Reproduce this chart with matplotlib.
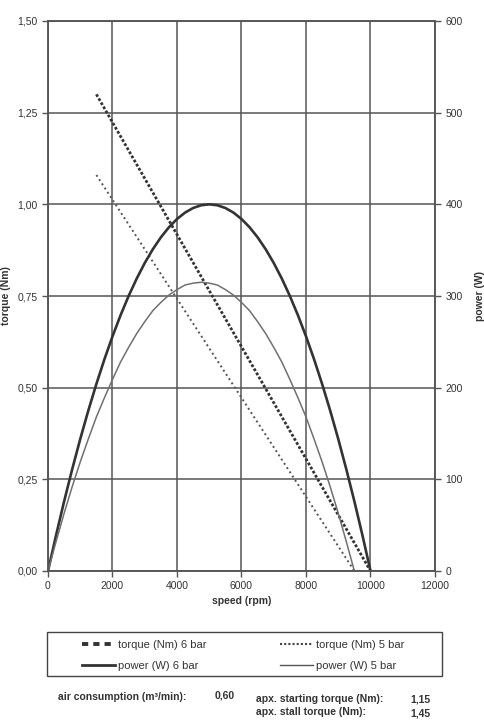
import matplotlib.pyplot as plt
from matplotlib.lines import Line2D
from matplotlib.patches import Rectangle
from matplotlib.ticker import FuncFormatter, MultipleLocator

plt.rcParams['font.family'] = ['Liberation Sans', 'DejaVu Sans']

# torque lines (speed rpm, torque Nm)
torque6_speed = [1500, 10000]
torque6 = [1.30, 0.00]
torque5_speed = [1500, 9500]
torque5 = [1.08, 0.00]

# power curves (speed rpm, power W)
power6_speed = [0, 250, 500, 750, 1000, 1250, 1500, 1750, 2000, 2250, 2500, 2750,
                3000, 3250, 3500, 3750, 4000, 4250, 4500, 4750, 5000, 5250, 5500,
                5750, 6000, 6250, 6500, 6750, 7000, 7250, 7500, 7750, 8000, 8250,
                8500, 8750, 9000, 9250, 9500, 9750, 10000]
power6 = [0, 39, 76, 111, 144, 175, 204, 231, 256, 279, 300, 319,
          336, 351, 364, 375, 384, 391, 396, 399, 400, 399, 396,
          391, 384, 375, 364, 351, 336, 319, 300, 279, 256, 231,
          204, 175, 144, 111, 76, 39, 0]
power5_speed = [0, 250, 500, 750, 1000, 1250, 1500, 1750, 2000, 2250, 2500, 2750,
                3000, 3250, 3500, 3750, 4000, 4250, 4500, 4750, 5000, 5250, 5500,
                5750, 6000, 6250, 6500, 6750, 7000, 7250, 7500, 7750, 8000, 8250,
                8500, 8750, 9000, 9250, 9500]
power5 = [0, 32, 63, 92, 119, 144, 168, 189, 209, 228, 244, 259,
          272, 284, 293, 301, 307, 312, 314, 315, 314, 312, 307,
          301, 293, 284, 272, 259, 244, 228, 209, 189, 168, 144,
          119, 92, 63, 32, 0]

labels_left = ['torque (Nm) 6 bar', 'power (W) 6 bar']
labels_right = ['torque (Nm) 5 bar', 'power (W) 5 bar']

txt = '#333333'
grid_c = '#555555'

fig = plt.figure(figsize=(4.85, 7.27), dpi=100)
ax = fig.add_axes([48 / 485, 1 - 571 / 727, 387 / 485, 550 / 727])
ax2 = ax.twinx()

ax.set_xlim(0, 12000)
ax.set_ylim(0, 1.5)
ax2.set_ylim(0, 600)
ax.xaxis.set_major_locator(MultipleLocator(2000))
ax.yaxis.set_major_locator(MultipleLocator(0.25))
ax2.yaxis.set_major_locator(MultipleLocator(100))
ax.yaxis.set_major_formatter(FuncFormatter(lambda v, p: f'{v:.2f}'.replace('.', ',')))
ax.grid(True, color=grid_c, linewidth=1.1)
ax.set_axisbelow(True)

for a in (ax, ax2):
    for s in a.spines.values():
        s.set_color(grid_c)
        s.set_linewidth(1.1)
    a.tick_params(colors=grid_c, labelcolor=txt, labelsize=7.5, length=4, width=1)

ax.plot(torque6_speed, torque6, color='#333333', lw=2.0, linestyle=(0, (1.0, 0.7)))
ax.plot(torque5_speed, torque5, color='#555555', lw=1.4, linestyle=(0, (1.0, 1.6)))
ax2.plot(power6_speed, power6, color='#333333', lw=1.9)
ax2.plot(power5_speed, power5, color='#707070', lw=1.1)

fig.text(6 / 485, 1 - 296 / 727, 'torque (Nm)', rotation=90, fontsize=7.5,
         fontweight='bold', color=txt, ha='center', va='center')
fig.text(480 / 485, 1 - 296 / 727, 'power (W)', rotation=90, fontsize=7.5,
         fontweight='bold', color=txt, ha='center', va='center')
ax.set_xlabel('speed (rpm)', fontsize=7.5, fontweight='bold', color=txt, labelpad=3)

# legend box with two columns (legend handles drawn like the printed key)
h1 = Line2D([], [], color='#333333', lw=2.8, linestyle=(0, (1.6, 1.3)))
h2 = Line2D([], [], color='#333333', lw=2.0)
h3 = Line2D([], [], color='#444444', lw=1.5, linestyle=(0, (1.0, 1.0)))
h4 = Line2D([], [], color='#555555', lw=1.0)
fig.patches.append(Rectangle((47 / 485, 1 - 676 / 727), 395 / 485, 44 / 727,
                             transform=fig.transFigure, fill=False,
                             edgecolor='#444444', linewidth=1.0))
leg_kw = dict(loc='upper left', fontsize=8, frameon=False, handlelength=3.0,
              handletextpad=0.2, borderpad=0, borderaxespad=0,
              labelspacing=1.0, labelcolor=txt)
fig.legend([h1, h2], labels_left, bbox_to_anchor=(82 / 485, 1 - 640 / 727), **leg_kw)
fig.legend([h3, h4], labels_right, bbox_to_anchor=(280 / 485, 1 - 640 / 727), **leg_kw)

fig.text(58 / 485, 1 - 697 / 727, 'air consumption (m³/min):', fontsize=7.5,
         fontweight='bold', color=txt, va='center')
fig.text(215 / 485, 1 - 696 / 727, '0,60', fontsize=7.5, fontweight='bold', color=txt, va='center')
fig.text(256 / 485, 1 - 699 / 727, 'apx. starting torque (Nm):', fontsize=7.5,
         fontweight='bold', color=txt, va='center')
fig.text(410 / 485, 1 - 699 / 727, '1,15', fontsize=7.5, fontweight='bold', color=txt, va='center')
fig.text(256 / 485, 1 - 712 / 727, 'apx. stall torque (Nm):', fontsize=7.5,
         fontweight='bold', color=txt, va='center')
fig.text(410 / 485, 1 - 714 / 727, '1,45', fontsize=7.5, fontweight='bold', color=txt, va='center')

fig.savefig('out.png', dpi=100)
